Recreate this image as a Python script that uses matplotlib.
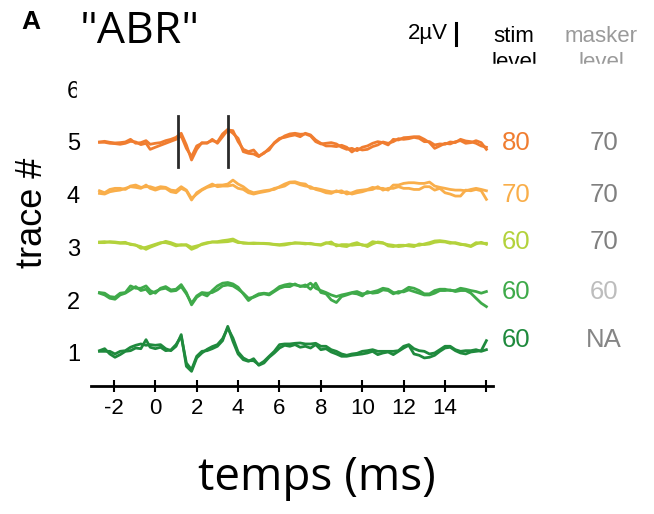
import numpy as np
import matplotlib.pyplot as plt
from matplotlib.patches import Rectangle

plt.rcParams['font.family'] = ['Liberation Sans', 'DejaVu Sans']

# time axis (ms): main samples + extra samples read in between
t_ms = [-2.7, -2.2, -1.7, -1.2, -0.7, -0.25,
        0.0, 0.25, 0.5, 0.75, 1.0, 1.25, 1.5, 1.75, 2.0, 2.25, 2.5, 2.75,
        3.0, 3.25, 3.5, 3.75, 4.0, 4.25, 4.5, 4.75, 5.0,
        5.5, 6.0, 6.5, 7.0, 7.5, 8.0, 8.5, 9.0, 9.5, 10.0, 10.5, 11.0,
        11.5, 12.0, 12.5, 13.0, 13.5, 14.0, 14.5, 15.0, 15.5, 16.0]
t_mid = [-2.45, -1.95, -1.45, -0.95, -0.45,
         5.25, 5.75, 6.25, 6.75, 7.25, 7.75, 8.25, 8.75, 9.25, 9.75, 10.25,
         10.75, 11.25, 11.75, 12.25, 12.75, 13.25, 13.75, 14.25, 14.75,
         15.25, 15.75]

# two repeats per trace, in uV (offset from trace #)
tr5_a = [0.0, -0.03, -0.06, 0.24, -0.06, -0.21, -0.12, -0.06, 0.12, 0.24,
         0.42, 0.79, -0.27, -1.64, -0.67, -0.06, -0.12, 0.24, -0.12, 0.48,
         1.09, 1.03, 0.03, -0.67, -0.88, -0.73, -1.27, -0.58, 0.24, 0.73,
         0.70, 0.55, -0.18, -0.06, -0.48, -0.58, -0.48, -0.12, -0.06, 0.24,
         0.39, 0.48, 0.24, -0.58, -0.12, 0.03, -0.12, 0.12, -0.67]
tr5_b = [-0.03, -0.12, -0.21, 0.06, -0.24, -0.67, -0.48, -0.30, -0.12, 0.06,
         0.24, 0.55, -0.58, -1.33, -0.36, -0.12, -0.06, 0.12, 0.0, 0.73,
         1.15, 0.79, 0.33, -0.88, -1.03, -1.09, -1.33, -0.73, 0.33, 0.55,
         0.48, 0.64, -0.12, -0.36, -0.30, -0.91, -0.73, -0.42, 0.0, 0.03,
         0.24, 0.42, 0.03, -0.27, -0.21, -0.06, 0.09, -0.12, -0.48]
tr4_a = [0.36, 0.48, 0.58, 0.79, 0.67, 0.73, 0.58, 0.73, 0.67, 0.42,
         0.36, 0.73, 0.42, -0.33, 0.06, 0.42, 0.67, 0.79, 0.88, 0.88,
         0.97, 1.33, 0.97, 0.73, 0.36, 0.18, 0.27, 0.42, 0.73, 1.15,
         1.03, 0.58, 0.48, 0.27, 0.36, 0.18, 0.42, 0.67, 0.58, 0.88,
         1.03, 1.09, 1.03, 0.79, 0.58, 0.42, 0.36, 0.58, 0.36]
tr4_b = [0.12, 0.27, 0.42, 0.73, 0.58, 0.58, 0.42, 0.58, 0.58, 0.27,
         0.18, 0.58, 0.36, -0.48, 0.18, 0.48, 0.73, 0.97, 0.73, 0.79,
         0.79, 0.88, 0.58, 0.48, 0.18, 0.06, 0.18, 0.36, 0.67, 1.09,
         0.91, 0.73, 0.36, 0.12, 0.18, 0.06, 0.27, 0.48, 0.42, 0.58,
         0.58, 0.48, 0.73, 0.42, 0.18, -0.12, 0.42, 0.48, -0.42]
tr3_a = [0.5, 0.47, 0.38, 0.32, 0.08, 0.02, 0.2, 0.38, 0.56, 0.44,
         0.26, 0.2, 0.26, 0.02, 0.14, 0.26, 0.38, 0.5, 0.53, 0.62,
         0.68, 0.77, 0.53, 0.38, 0.38, 0.41, 0.38, 0.32, 0.26, 0.38,
         0.41, 0.32, 0.26, 0.32, 0.14, 0.32, 0.2, 0.53, 0.38, 0.2,
         0.14, 0.2, 0.32, 0.59, 0.56, 0.38, 0.26, 0.44, 0.38]
tr3_b = [0.44, 0.53, 0.44, 0.26, -0.08, 0.14, 0.29, 0.44, 0.44, 0.32,
         0.14, 0.26, 0.2, -0.17, 0.02, 0.32, 0.44, 0.5, 0.47, 0.5,
         0.53, 0.62, 0.44, 0.44, 0.38, 0.35, 0.38, 0.35, 0.2, 0.32,
         0.38, 0.38, 0.2, 0.5, 0.26, 0.2, 0.26, 0.32, 0.44, 0.08,
         0.2, 0.08, 0.26, 0.47, 0.5, 0.44, 0.2, 0.32, 0.29]
tr2_a = [0.70, 0.33, 0.64, 1.30, 1.09, 0.88, 0.64, 1.09, 1.24, 0.94,
         1.0, 1.42, 0.70, -0.42, 0.27, 0.58, 0.39, 0.88, 1.30, 1.55,
         1.61, 1.48, 1.18, 0.58, -0.03, 0.33, 0.58, 0.58, 1.24, 1.48,
         1.30, 1.55, 0.88, 0.48, 0.48, 0.70, 0.58, 0.76, 1.09, 0.70,
         0.88, 1.09, 0.58, 0.88, 1.0, 0.88, 1.0, 0.79, 0.79]
tr2_b = [0.64, 0.18, 0.48, 0.94, 0.88, 0.58, 0.79, 1.0, 1.09, 0.82,
         0.88, 1.24, 0.58, -0.27, 0.39, 0.70, 0.64, 0.70, 0.94, 1.30,
         1.39, 1.30, 1.0, 0.64, 0.18, 0.27, 0.48, 0.48, 1.09, 1.24,
         1.24, 1.0, 0.70, 0.03, 0.33, 0.64, 0.39, 0.64, 0.94, 0.58,
         0.76, 0.79, 0.48, 0.64, 0.88, 0.79, 0.88, 0.18, -0.58]
tr1_a = [0.21, -0.09, -0.15, 0.21, 0.39, 0.52, 0.39, 0.52, 0.21, 0.27,
         0.76, 1.52, -0.91, -1.52, -0.30, 0.15, 0.21, 0.39, 0.61, 1.12,
         2.42, 1.06, -0.09, -0.61, -0.76, -0.52, -1.12, -0.39, 0.45, 0.61,
         0.52, 0.45, 0.30, 0.09, -0.30, -0.21, -0.09, 0.15, 0.0, -0.15,
         0.45, -0.09, -0.45, -0.21, 0.45, 0.21, -0.09, 0.15, 1.12]
tr1_b = [0.15, 0.15, 0.15, 0.52, 0.82, 0.76, 0.70, 0.76, 0.39, 0.21,
         0.61, 1.67, -1.21, -1.67, -0.45, 0.0, 0.33, 0.58, 0.76, 1.30,
         2.27, 1.36, 0.09, -0.45, -0.70, -0.70, -1.06, -0.30, 0.76, 0.82,
         0.91, 0.82, 0.61, 0.30, -0.09, -0.09, 0.15, 0.30, 0.15, 0.15,
         0.61, 0.39, 0.15, 0.0, 0.61, 0.30, 0.21, 0.30, 0.30]

# values at t_mid
tr5_a_mid = [0.06, -0.09, 0.0, -0.12, 0.12, -1.03, -0.12, 0.55, 0.79, 0.73,
             0.03, -0.12, -0.18, -0.67, -0.79, -0.36, 0.03, -0.27, 0.18, 0.42,
             0.48, -0.06, -0.36, -0.18, 0.12, -0.06, -0.06]
tr5_b_mid = [-0.03, -0.15, -0.12, 0.0, -0.12, -0.97, -0.06, 0.42, 0.64, 0.79,
             0.18, -0.36, -0.42, -0.48, -0.58, -0.67, -0.27, -0.12, 0.30, 0.30,
             0.33, 0.03, -0.18, 0.0, 0.24, 0.03, -0.36]
tr4_a_mid = [0.18, 0.58, 0.48, 0.88, 0.73, 0.36, 0.48, 0.97, 1.18, 0.97,
             0.58, 0.36, 0.27, 0.06, 0.36, 0.48, 0.58, 0.42, 0.88, 1.09,
             1.03, 1.15, 0.67, 0.48, 0.42, 0.48, 0.48]
tr4_b_mid = [0.06, 0.36, 0.58, 0.67, 0.88, 0.27, 0.58, 0.79, 1.09, 0.79,
             0.48, 0.18, 0.36, 0.27, 0.18, 0.42, 0.73, 0.58, 0.73, 0.58,
             0.48, 0.73, 0.58, 0.06, -0.12, 0.36, 0.36]
tr3_a_mid = [0.53, 0.44, 0.38, 0.2, -0.17, 0.35, 0.29, 0.32, 0.38, 0.38,
             0.29, 0.44, 0.26, 0.08, 0.44, 0.23, 0.44, 0.26, 0.08, 0.26,
             0.2, 0.44, 0.62, 0.47, 0.26, 0.14, 0.38]
tr3_b_mid = [0.44, 0.5, 0.47, 0.23, 0.02, 0.38, 0.26, 0.23, 0.44, 0.32,
             0.26, 0.38, 0.14, 0.26, 0.26, 0.08, 0.5, 0.14, 0.2, 0.14,
             0.32, 0.32, 0.53, 0.38, 0.32, 0.08, 0.47]
tr2_a_mid = [0.64, 0.27, 0.70, 1.09, 1.30, 0.64, 0.88, 1.39, 1.39, 1.24,
             1.09, 0.70, 0.33, 0.58, 0.79, 0.64, 0.88, 1.0, 0.64, 1.18,
             0.88, 0.58, 1.0, 0.88, 1.09, 0.88, 0.64]
tr2_b_mid = [0.48, 0.09, 0.64, 1.24, 1.0, 0.58, 0.79, 1.24, 1.48, 1.39,
             1.55, 0.58, -0.21, 0.48, 0.58, 0.79, 0.70, 0.88, 0.79, 0.94,
             0.64, 0.48, 0.88, 0.94, 0.88, 0.64, -0.27]
tr1_a_mid = [0.39, -0.39, 0.15, 0.45, 1.21, -0.91, 0.0, 0.70, 0.76, 0.61,
             0.76, 0.39, -0.09, -0.30, -0.15, 0.0, -0.15, 0.09, 0.15, 0.70,
             -0.21, -0.39, 0.15, 0.52, 0.0, 0.09, 0.21]
tr1_b_mid = [0.15, -0.09, 0.21, 0.70, 0.70, -0.76, 0.15, 0.82, 0.88, 0.82,
             0.88, 0.61, 0.15, -0.21, -0.03, 0.21, 0.15, 0.15, 0.21, 0.76,
             0.21, -0.09, 0.30, 0.61, 0.15, 0.21, 0.15]

trace_num = [5, 4, 3, 2, 1]
traces = [(tr5_a, tr5_b, tr5_a_mid, tr5_b_mid),
          (tr4_a, tr4_b, tr4_a_mid, tr4_b_mid),
          (tr3_a, tr3_b, tr3_a_mid, tr3_b_mid),
          (tr2_a, tr2_b, tr2_a_mid, tr2_b_mid),
          (tr1_a, tr1_b, tr1_a_mid, tr1_b_mid)]
stim_levels = ['80', '70', '60', '60', '60']
masker_levels = ['70', '70', '70', '60', 'NA']
wave_marks_ms = [1.1, 3.5]

colors = ['#F07D30', '#F9AE4A', '#B3D23C', '#3FAA4A', '#1F8A3D']
masker_colors = ['#808080', '#808080', '#808080', '#BDBDBD', '#858585']

UV = 0.2085  # trace units per uV (2 uV bar)

W, H = 654, 514
def fx(px): return px / W
def fy(py): return 1 - py / H

fig = plt.figure(figsize=(6.54, 5.14), dpi=100)
ax = fig.add_axes([fx(91.2), fy(386), fx(492.6) - fx(91.2), fy(73.4) - fy(386)])

t_all = np.array(t_ms + t_mid)
order = np.argsort(t_all)
for k, (a, b, am, bm), c in zip(trace_num, traces, colors):
    ya = np.array(a + am)[order]
    yb = np.array(b + bm)[order]
    ax.plot(t_all[order], k + yb * UV, color=c, lw=2.0, solid_joinstyle='round')
    ax.plot(t_all[order], k + ya * UV, color=c, lw=2.0, solid_joinstyle='round')

for m in wave_marks_ms:
    ax.plot([m, m], [4.53, 5.49], color='#2a2a2a', lw=2)

ax.set_xlim(-3.1, 16.3)
ax.set_ylim(0.374, 6.3)
ax.set_xticks(range(-2, 17, 2))
ax.set_xticklabels([str(v) for v in range(-2, 15, 2)] + [''])
ax.set_yticks(range(1, 7))
for s in ['left', 'top', 'right']:
    ax.spines[s].set_visible(False)
ax.spines['bottom'].set_linewidth(2)
ax.tick_params(axis='x', direction='inout', length=9, width=1.5, labelsize=16, pad=4)
ax.tick_params(axis='y', length=0, labelsize=17, pad=8)

# scale bar
ax.plot([14.55, 14.55], [6.84, 7.256], color='k', lw=2.2, clip_on=False)
fig.text(fx(448), fy(39), '2\u00b5V', ha='right', va='baseline', fontsize=16)

fig.text(fx(514), fy(42), 'stim', ha='center', va='baseline', fontsize=16)
fig.text(fx(514), fy(68), 'level', ha='center', va='baseline', fontsize=16)
fig.text(fx(601), fy(42), 'masker', ha='center', va='baseline', fontsize=16, color='#9a9a9a')
fig.text(fx(601), fy(68), 'level', ha='center', va='baseline', fontsize=16, color='#9a9a9a')

stim_py = [143, 195, 242, 292, 340]
for py, s, m, c, mc in zip(stim_py, stim_levels, masker_levels, colors, masker_colors):
    fig.text(fx(516), fy(py), s, ha='center', va='center', fontsize=18.5, color=c)
    fig.text(fx(604), fy(py), m, ha='center', va='center', fontsize=18.5, color=mc)

# clipped bits of the original composite
fig.add_artist(Rectangle((fx(480), fy(90)), fx(170), fy(64) - fy(90), color='white', zorder=10))
fig.add_artist(Rectangle((fx(77), fy(106)), fx(12), fy(80) - fy(106), color='white', zorder=10))

fig.text(fx(31), fy(22), 'A', ha='center', va='center', fontsize=19, fontweight='bold')
fig.text(fx(140), fy(32), '"ABR"', ha='center', va='center', fontsize=32, family='Open Sans')
fig.text(fx(33), fy(213), 'trace #', rotation=90, ha='center', va='center', fontsize=26)
fig.text(fx(317), fy(478), 'temps (ms)', ha='center', va='center', fontsize=33, family='Open Sans')

fig.savefig('out.png', dpi=100)
